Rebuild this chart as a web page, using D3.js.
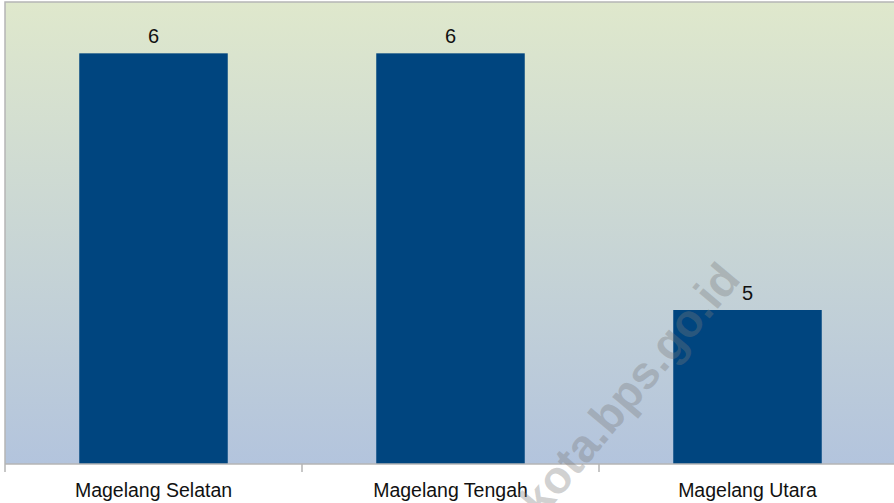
<!DOCTYPE html>
<html>
<head>
<meta charset="utf-8">
<script src="https://cdn.jsdelivr.net/npm/d3@7"></script>
<style>
  body { margin: 0; background: #fff; }
  svg { display: block; font-family: "Liberation Sans", Arial, sans-serif; }
</style>
</head>
<body>
<div id="chart"></div>
<script>
// data
var districts = ["Magelang Selatan", "Magelang Tengah", "Magelang Utara"];
var counts = [6, 6, 5];
var yDomain = [4.4, 6.2];

var svgWidth = 894;
var svgHeight = 503;

var margin = { top: 2, bottom: 39, right: -2, left: 5 };
var width = svgWidth - margin.left - margin.right;
var height = svgHeight - margin.top - margin.bottom;

var svg = d3.select("#chart")
  .append("svg")
  .attr("width", svgWidth)
  .attr("height", svgHeight);

// background gradient of the plot area
var defs = svg.append("defs");
var grad = defs.append("linearGradient")
  .attr("id", "bg")
  .attr("x1", 0).attr("y1", 0)
  .attr("x2", 0).attr("y2", 1);
grad.append("stop").attr("offset", "0%").attr("stop-color", "#dfe8cc");
grad.append("stop").attr("offset", "100%").attr("stop-color", "#b3c4dd");

var chartGroup = svg.append("g")
  .attr("transform", `translate(${margin.left}, ${margin.top})`);

chartGroup.append("rect")
  .attr("x", 0).attr("y", 0)
  .attr("width", width).attr("height", height)
  .attr("fill", "url(#bg)");

// top and left border
chartGroup.append("path")
  .attr("d", `M0,${height}V0H${width}`)
  .attr("fill", "none")
  .attr("stroke", "#b5b5b5")
  .attr("stroke-width", 1.5);

// scales
var xScale = d3.scaleBand()
  .domain(districts)
  .range([0, width])
  .paddingInner(0.5)
  .paddingOuter(0.25);

var yScale = d3.scaleLinear()
  .domain(yDomain)
  .range([height, 0]);

// bars
chartGroup.selectAll(".bar")
  .data(districts)
  .enter()
  .append("rect")
  .attr("class", "bar")
  .attr("x", d => xScale(d))
  .attr("y", (d, i) => yScale(counts[i]))
  .attr("width", xScale.bandwidth())
  .attr("height", (d, i) => height - yScale(counts[i]))
  .attr("fill", "#00457f");

// value labels
chartGroup.selectAll(".value")
  .data(districts)
  .enter()
  .append("text")
  .attr("class", "value")
  .attr("text-anchor", "middle")
  .attr("x", d => xScale(d) + xScale.bandwidth() / 2)
  .attr("y", (d, i) => yScale(counts[i]) - 10)
  .attr("font-size", "20px")
  .attr("fill", "#111")
  .text((d, i) => counts[i]);

// x axis: ticks between categories
var step = xScale.step();
var tickPos = d3.range(districts.length + 1).map(i => i * step);

var xAxis = chartGroup.append("g")
  .attr("transform", `translate(0, ${height})`);

xAxis.append("line")
  .attr("x1", 0).attr("x2", width)
  .attr("stroke", "#b5b5b5")
  .attr("stroke-width", 1.5);

xAxis.selectAll(".tick")
  .data(tickPos)
  .enter()
  .append("line")
  .attr("x1", d => d).attr("x2", d => d)
  .attr("y1", 0).attr("y2", 8)
  .attr("stroke", "#b5b5b5")
  .attr("stroke-width", 1.5);

xAxis.selectAll(".label")
  .data(districts)
  .enter()
  .append("text")
  .attr("class", "label")
  .attr("text-anchor", "middle")
  .attr("x", d => xScale(d) + xScale.bandwidth() / 2)
  .attr("y", 33)
  .attr("font-size", "19.5px")
  .attr("fill", "#111")
  .text(d => d);

// watermark
svg.append("text")
  .attr("transform", "translate(742, 280) rotate(-50)")
  .attr("text-anchor", "end")
  .attr("font-size", "46px")
  .attr("font-weight", "bold")
  .attr("fill", "#7a7a7a")
  .attr("fill-opacity", 0.35)
  .text("kota.bps.go.id");
</script>
</body>
</html>
